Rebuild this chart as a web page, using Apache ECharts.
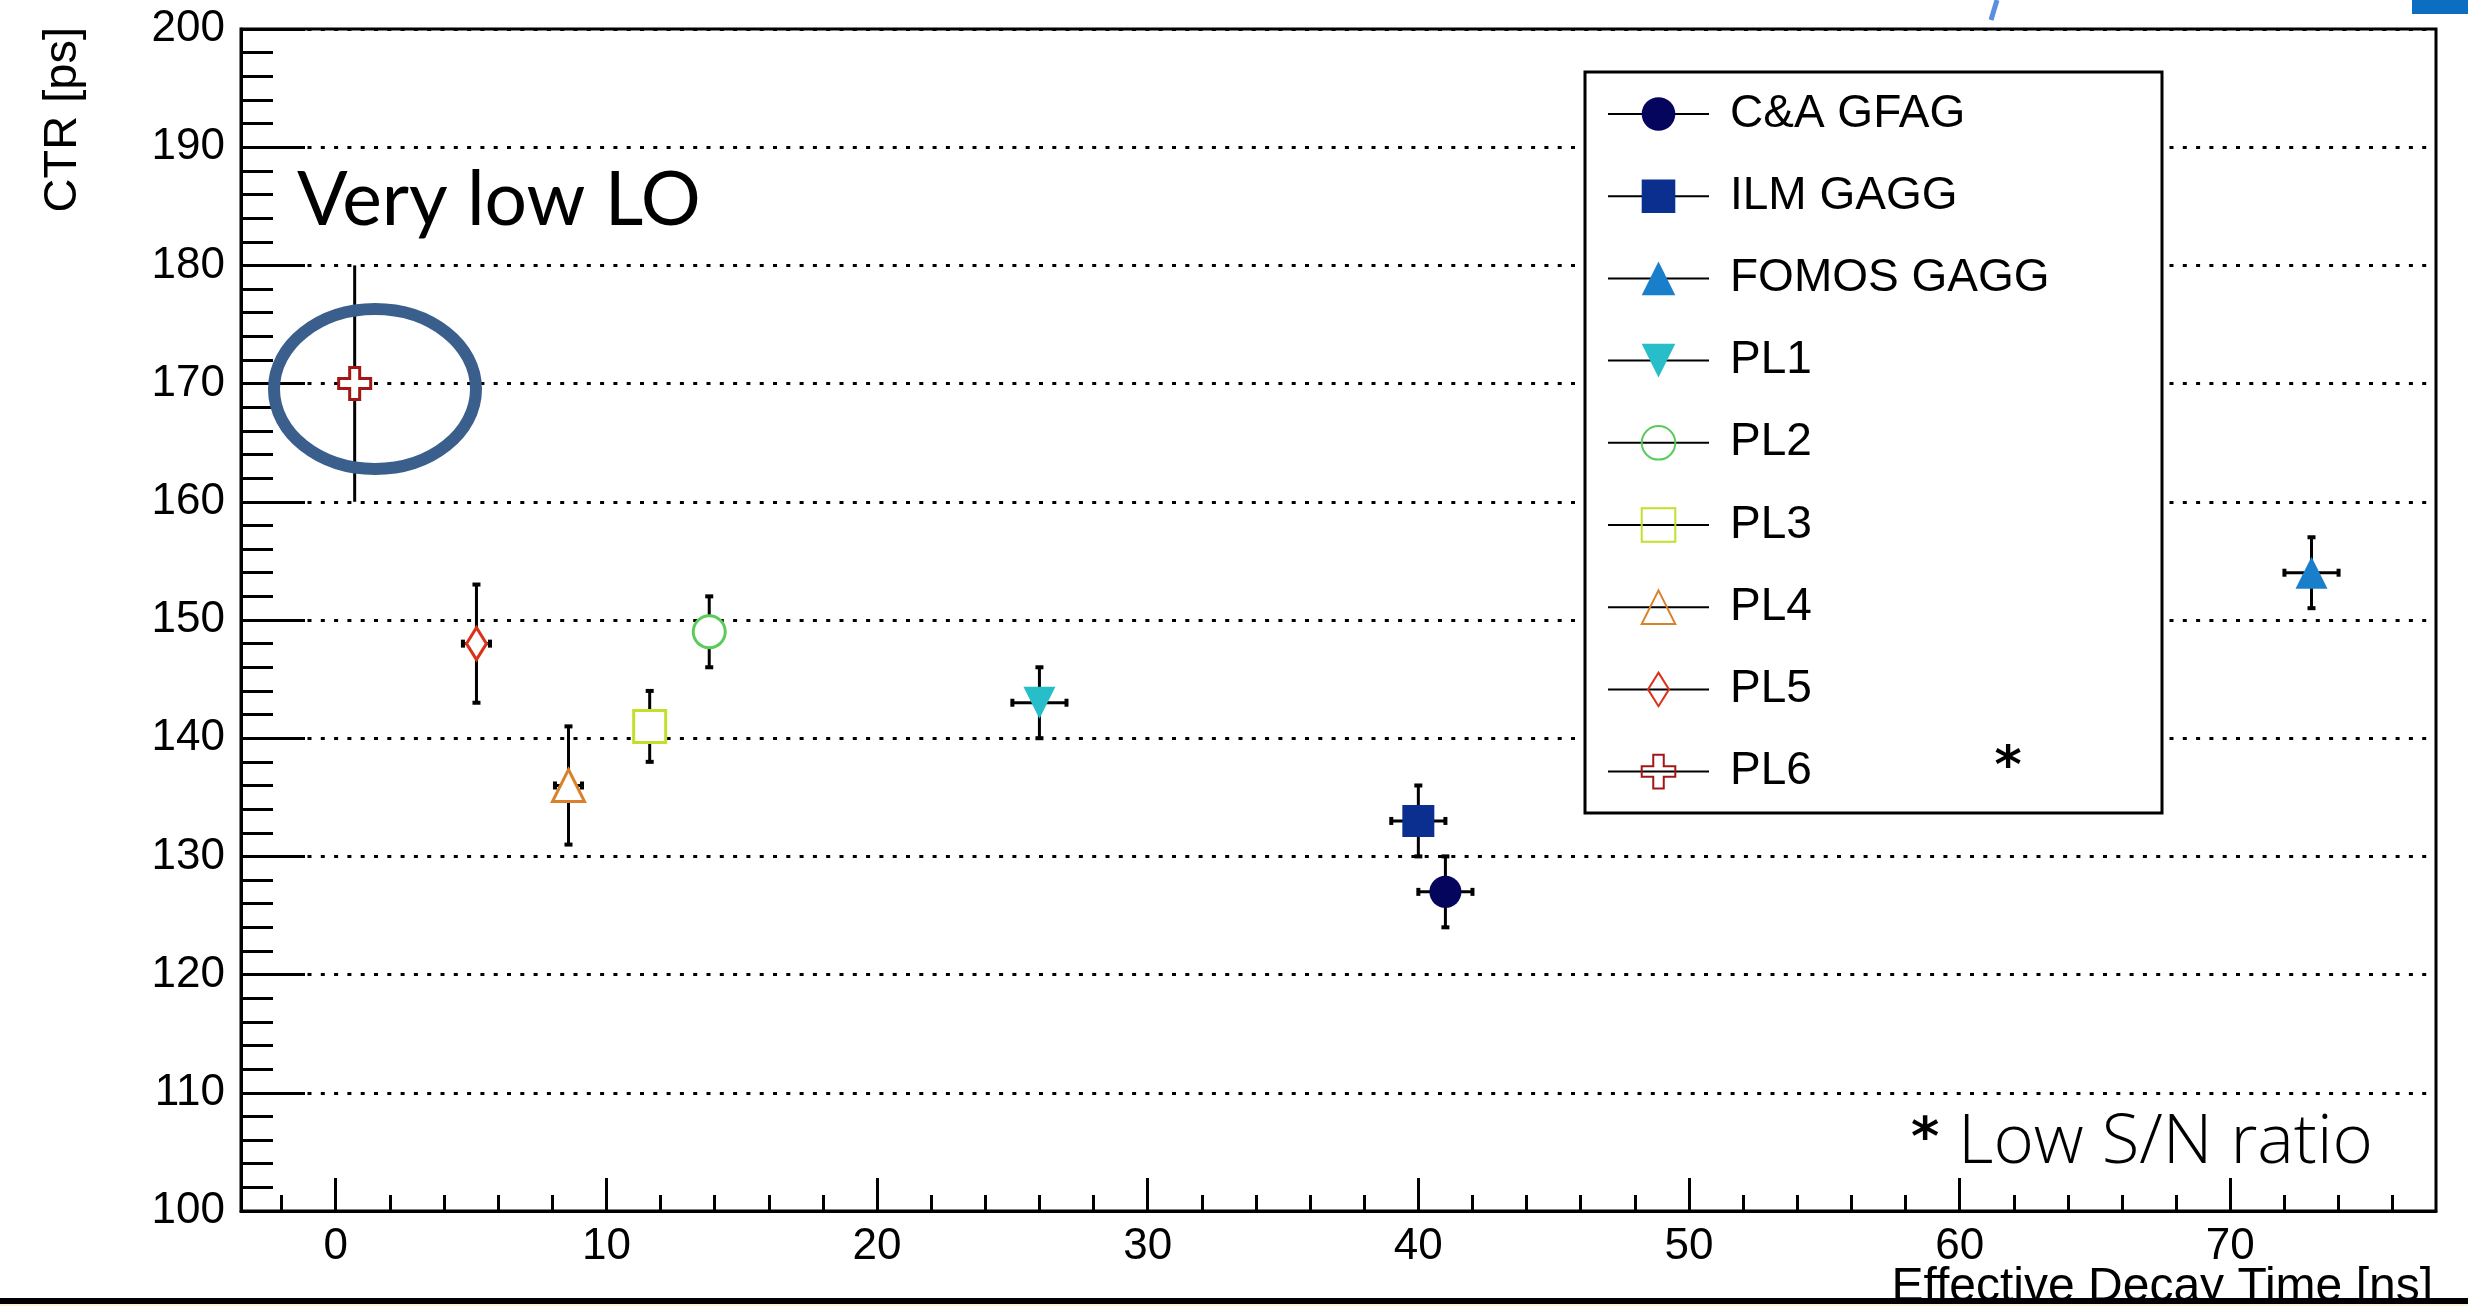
<!DOCTYPE html>
<html>
	<head>
		<meta charset="utf-8" />
		<title>CTR vs Effective Decay Time</title>
		<script src="https://cdn.jsdelivr.net/npm/echarts@6/dist/echarts.min.js"></script>
		<style>
			html, body { margin: 0; padding: 0; background: #fff; }
			#main { width: 2468px; height: 1306px; }
		</style>
	</head>
	<body>
		<div id="main"></div>
		<script>
			// values
			var names = ['C&A GFAG', 'ILM GAGG', 'FOMOS GAGG', 'PL1', 'PL2', 'PL3', 'PL4', 'PL5', 'PL6'];
			var decayTime = [41, 40, 73, 26, 13.8, 11.6, 8.6, 5.2, 0.7];
			var decayErr = [1, 1, 1, 1, 0, 0, 0.5, 0.5, 0];
			var ctr = [127, 133, 154, 143, 149, 141, 136, 148, 170];
			var ctrErr = [3, 3, 3, 3, 3, 3, 5, 5, 10];
			var hollow = [false, false, false, false, true, true, true, true, true];

			var xMajorTicks = [0, 10, 20, 30, 40, 50, 60, 70];
			var xMinorTicks = [-2, 2, 4, 6, 8, 12, 14, 16, 18, 22, 24, 26, 28, 32, 34, 36, 38,
				42, 44, 46, 48, 52, 54, 56, 58, 62, 64, 66, 68, 72, 74, 76];
			var yTicks = [100, 110, 120, 130, 140, 150, 160, 170, 180, 190, 200];

			var colors = ['#05055e', '#0a2f8f', '#1a7fcb', '#27bdc9', '#5bcb5b', '#bfe12a', '#d9822b', '#d93218', '#a31616'];
			var symbols = [
				'circle',
				'rect',
				'triangle',
				'path://M-16,-16 L16,-16 L0,16 Z',
				'circle',
				'rect',
				'triangle',
				// narrow diamond, padded so the box stays square
				'path://M0,-16 L10,0 L0,16 L-10,0 Z M-16,0 L-16,0 M16,0 L16,0',
				'path://M-5,-16 L5,-16 L5,-5 L16,-5 L16,5 L5,5 L5,16 L-5,16 L-5,5 L-16,5 L-16,-5 L-5,-5 Z'
			];

			var font = 'Liberation Sans, Arial, sans-serif';

			var chart = echarts.init(document.getElementById('main'));

			// error bars (PL6 has no end caps in the original)
			var errRows = [];
			for (var i = 0; i < names.length; i++) {
				errRows.push([decayTime[i], ctr[i], decayErr[i], ctrErr[i]]);
			}
			function renderErr(params, api) {
				var x = api.value(0), y = api.value(1), ex = api.value(2), ey = api.value(3);
				var c = api.coord([x, y]);
				var top = api.coord([x, y + ey]);
				var bot = api.coord([x, y - ey]);
				var st = { stroke: '#000', lineWidth: 3 };
				var cap = { stroke: '#000', lineWidth: 4 };
				var w = ey >= 10 ? 0 : 4;
				var kids = [
					{ type: 'line', shape: { x1: c[0], y1: top[1], x2: c[0], y2: bot[1] }, style: st },
					{ type: 'line', shape: { x1: c[0] - w, y1: top[1], x2: c[0] + w, y2: top[1] }, style: cap },
					{ type: 'line', shape: { x1: c[0] - w, y1: bot[1], x2: c[0] + w, y2: bot[1] }, style: cap }
				];
				if (ex > 0) {
					var l = api.coord([x - ex, y]);
					var r = api.coord([x + ex, y]);
					kids.push({ type: 'line', shape: { x1: l[0], y1: c[1], x2: r[0], y2: c[1] }, style: st });
					kids.push({ type: 'line', shape: { x1: l[0], y1: c[1] - 4, x2: l[0], y2: c[1] + 4 }, style: cap });
					kids.push({ type: 'line', shape: { x1: r[0], y1: c[1] - 4, x2: r[0], y2: c[1] + 4 }, style: cap });
				}
				return { type: 'group', children: kids };
			}

			var series = [{
				name: 'errors',
				type: 'custom',
				renderItem: renderErr,
				data: errRows,
				encode: { x: 0, y: 1 },
				z: 2,
				silent: true
			}];
			var legendData = [];
			for (var k = 0; k < names.length; k++) {
				series.push({
					name: names[k],
					type: 'line',
					data: [[decayTime[k], ctr[k]]],
					symbol: symbols[k],
					symbolSize: 32,
					lineStyle: { color: '#000', width: 3 },
					itemStyle: hollow[k]
						? { color: '#fff', borderColor: colors[k], borderWidth: 3 }
						: { color: colors[k], borderWidth: 0 },
					z: 3
				});
				legendData.push(hollow[k]
					? { name: names[k], itemStyle: { color: 'rgba(0,0,0,0)' } }
					: { name: names[k] });
			}

			var option = {
				animation: false,
				backgroundColor: '#fff',
				grid: {
					left: 241, right: 32, top: 29, bottom: 95,
					show: true, borderColor: '#000', borderWidth: 3
				},
				legend: {
					orient: 'vertical',
					left: 1607, top: 91,
					itemWidth: 101, itemHeight: 42, itemGap: 36.2,
					padding: 0,
					selectedMode: false,
					z: 5,
					textStyle: { fontFamily: font, fontSize: 46, color: '#000', padding: [0, 0, 0, 16] },
					data: legendData
				},
				xAxis: [{
					type: 'value',
					min: -3.5, max: 77.6,
					position: 'bottom',
					axisLine: { onZero: false, lineStyle: { color: '#000', width: 3 } },
					axisTick: { inside: true, length: 33, customValues: xMajorTicks, lineStyle: { color: '#000', width: 3 } },
					axisLabel: { customValues: xMajorTicks, fontFamily: font, fontSize: 44, color: '#000', margin: 14 },
					splitLine: { show: false }
				}, {
					type: 'value',
					min: -3.5, max: 77.6,
					position: 'bottom',
					axisLine: { show: false, onZero: false },
					axisTick: { inside: true, length: 16, customValues: xMinorTicks, lineStyle: { color: '#000', width: 3 } },
					axisLabel: { show: false },
					splitLine: { show: false }
				}],
				yAxis: {
					type: 'value',
					min: yTicks[0], max: yTicks[yTicks.length - 1], interval: 10,
					axisLine: { show: true, onZero: false, lineStyle: { color: '#000', width: 3 } },
					axisTick: { inside: true, length: 64, lineStyle: { color: '#000', width: 3 } },
					minorTick: { show: true, splitNumber: 5, length: 32, lineStyle: { color: '#000', width: 3 } },
					axisLabel: { fontFamily: font, fontSize: 44, color: '#000', margin: 16 },
					splitLine: { show: true, lineStyle: { color: '#000', width: 3, type: [4, 9.3] } }
				},
				graphic: [
					// legend frame
					{ type: 'rect', z: 3, shape: { x: 1585, y: 72, width: 577, height: 741 },
						style: { fill: '#fff', stroke: '#000', lineWidth: 3 } },
					{ type: 'text', z: 6, x: 2008, y: 768,
						style: { text: '*', font: 'bold 52px DejaVu Sans', fill: '#000', align: 'center', verticalAlign: 'middle' } },
					// axis titles
					{ type: 'text', z: 6, x: 63, y: 27, rotation: Math.PI / 2,
						style: { text: 'CTR [ps]', font: '47px ' + font, fill: '#000', align: 'right', verticalAlign: 'middle' } },
					{ type: 'text', z: 6, x: 2433, y: 1264,
						style: { text: 'Effective Decay Time [ns]', font: '48px ' + font, fill: '#000', align: 'right', verticalAlign: 'top' } },
					// annotations
					{ type: 'text', z: 6, x: 297, y: 163,
						style: { text: 'Very low LO', font: '75px Lato, Open Sans, sans-serif', fill: '#000', align: 'left', verticalAlign: 'top' } },
					{ type: 'ellipse', z: 6, shape: { cx: 375, cy: 389, rx: 101, ry: 80 },
						style: { fill: 'none', stroke: '#3a5f8d', lineWidth: 12 } },
					{ type: 'text', z: 6, x: 1911, y: 1114,
						style: { text: '*', font: 'bold 54px DejaVu Sans', fill: '#000', align: 'left', verticalAlign: 'top' } },
					{ type: 'text', z: 6, x: 1958, y: 1109,
						style: { text: 'Low S/N ratio', font: '300 69px Open Sans, sans-serif', fill: '#000', align: 'left', verticalAlign: 'top' } },
					// slide bits around the figure
					{ type: 'line', z: 6, shape: { x1: 1997, y1: 0, x2: 1991, y2: 20 }, style: { stroke: '#5a8ee0', lineWidth: 5 } },
					{ type: 'rect', z: 6, shape: { x: 2412, y: 0, width: 56, height: 14 }, style: { fill: '#0b6ec1' } },
					{ type: 'rect', z: 20, shape: { x: 0, y: 1298, width: 2468, height: 6 }, style: { fill: '#000' } },
					{ type: 'rect', z: 20, shape: { x: 0, y: 1304, width: 2468, height: 2 }, style: { fill: '#fcf3d6' } }
				],
				series: series
			};
			chart.setOption(option);
		</script>
	</body>
</html>
